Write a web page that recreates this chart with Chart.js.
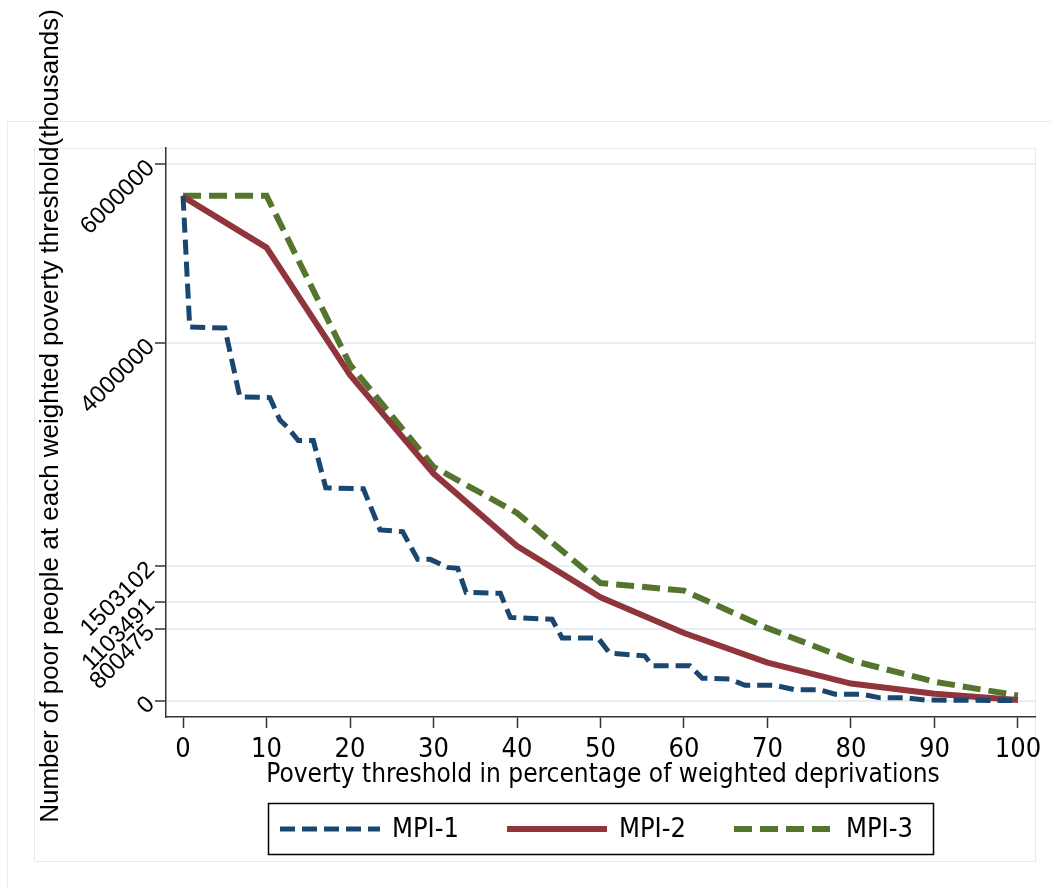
<!DOCTYPE html>
<html>
<head>
<meta charset="utf-8">
<title>Poor people by poverty threshold</title>
<script src="https://cdn.jsdelivr.net/npm/chart.js@4.4.1/dist/chart.umd.min.js"></script>
<style>
  html, body { margin: 0; padding: 0; background: #fff; }
  canvas { display: block; }
</style>
</head>
<body>
<canvas id="myChart" width="1051" height="888"></canvas>
<script>
// poverty thresholds (%) where MPI-2 and MPI-3 are evaluated
const limiares = [0, 10, 20, 30, 40, 50, 60, 70, 80, 90, 100]
const mpi2 = [5640000, 5070000, 3645000, 2540000, 1730000, 1155000, 755000, 425000, 190000, 75000, 5000]
const mpi3 = [5650000, 5650000, 3760000, 2615000, 2100000, 1315000, 1230000, 810000, 450000, 210000, 56000]

// MPI-1 has many more steps
const mpi1X = [0, 0.8, 5, 6.8, 10.4, 11.6, 12.6, 13.8, 15.6, 17.1, 21.6, 23.6, 26.3, 28.1, 29.6, 31.7, 32.9, 33.9, 38, 39.2, 44.2, 45.4, 49.7, 51.1, 55.3, 56.2, 60.7, 62.2, 65.5, 67.3, 70.9, 73.3, 76.3, 78.1, 81.3, 83.5, 86.7, 88.9, 100]
const mpi1Y = [5650000, 4180000, 4170000, 3400000, 3390000, 3140000, 3050000, 2910000, 2910000, 2380000, 2370000, 1910000, 1890000, 1580000, 1580000, 1490000, 1480000, 1210000, 1200000, 930000, 910000, 700000, 700000, 530000, 500000, 390000, 390000, 250000, 240000, 170000, 170000, 120000, 120000, 70000, 70000, 30000, 30000, 5000, 0]

const xTicks = [0, 10, 20, 30, 40, 50, 60, 70, 80, 90, 100]
const yTicks = [0, 800475, 1103491, 1503102, 4000000, 6000000]

const legendas = ['MPI-1', 'MPI-2', 'MPI-3']
const tituloX = 'Poverty threshold in percentage of weighted deprivations'
const tituloY = 'Number of poor people at each weighted poverty threshold(thousands)'

const fonteNormal = '"Liberation Sans", Arial, sans-serif'
const fonteEstreita = '"Liberation Sans Narrow", "Arial Narrow", "DejaVu Sans Condensed", sans-serif'

function pares(xs, ys) {
  return xs.map((x, i) => ({ x: x, y: ys[i] }))
}

// frames, axis titles and the boxed legend, drawn the stata way
const molduraPlugin = {
  id: 'moldura',
  beforeDraw(chart) {
    const ctx = chart.ctx
    ctx.save()
    ctx.fillStyle = '#fff'
    ctx.fillRect(0, 0, chart.width, chart.height)
    ctx.strokeStyle = '#e3ecef'
    ctx.lineWidth = 1
    ctx.beginPath()
    ctx.moveTo(7.5, 888)
    ctx.lineTo(7.5, 121.5)
    ctx.lineTo(1051, 121.5)
    ctx.stroke()
    ctx.strokeRect(34.5, 148.5, 1001, 713)
    ctx.restore()
  },
  afterDraw(chart) {
    const ctx = chart.ctx
    ctx.save()
    ctx.fillStyle = '#000'

    // y title
    ctx.save()
    ctx.translate(51, 416)
    ctx.rotate(-Math.PI / 2)
    ctx.font = '26px ' + fonteNormal
    ctx.textAlign = 'center'
    ctx.textBaseline = 'middle'
    ctx.fillText(tituloY, 0, 0)
    ctx.restore()

    // x title
    ctx.font = '26px ' + fonteEstreita
    ctx.textAlign = 'center'
    ctx.textBaseline = 'middle'
    ctx.fillText(tituloX, 603, 775)

    // legend
    ctx.strokeStyle = '#000'
    ctx.lineWidth = 1.5
    ctx.strokeRect(268.5, 803.5, 665, 51)
    const ds = chart.data.datasets
    ds.forEach((d, i) => {
      const x0 = 280 + i * 227
      const y = 829
      ctx.save()
      ctx.strokeStyle = d.borderColor
      ctx.lineWidth = d.borderWidth
      ctx.setLineDash(d.borderDash || [])
      ctx.beginPath()
      ctx.moveTo(x0, y)
      ctx.lineTo(x0 + 100, y)
      ctx.stroke()
      ctx.restore()
      ctx.font = '27px ' + fonteEstreita
      ctx.textAlign = 'left'
      ctx.textBaseline = 'middle'
      ctx.fillStyle = '#000'
      ctx.fillText(d.label, x0 + 112, y + 1)
    })
    ctx.restore()
  }
}

const ctx = document.getElementById('myChart')

new Chart(ctx, {
  type: 'line',
  data: {
    datasets: [
      {
        label: legendas[0],
        data: pares(mpi1X, mpi1Y),
        borderColor: '#1a476f',
        borderWidth: 5,
        borderDash: [15, 7],
        pointRadius: 0,
        tension: 0,
        fill: false
      },
      {
        label: legendas[1],
        data: pares(limiares, mpi2),
        borderColor: '#90353b',
        borderWidth: 6,
        pointRadius: 0,
        tension: 0,
        fill: false
      },
      {
        label: legendas[2],
        data: pares(limiares, mpi3),
        borderColor: '#55752f',
        borderWidth: 6,
        borderDash: [18, 8],
        pointRadius: 0,
        tension: 0,
        fill: false
      }
    ]
  },
  options: {
    responsive: false,
    animation: false,
    layout: {
      padding: { left: 0, top: 148, right: 16, bottom: 0 }
    },
    plugins: {
      legend: { display: false },
      tooltip: { enabled: false }
    },
    scales: {
      x: {
        type: 'linear',
        min: -2.04,
        max: 102.04,
        afterBuildTicks: (scale) => { scale.ticks = xTicks.map(v => ({ value: v })) },
        afterFit: (scale) => { scale.height = 171 },
        border: { display: true, color: '#333', width: 1.5 },
        grid: { drawOnChartArea: false, drawTicks: true, tickLength: 11, tickColor: '#333', tickWidth: 1.5 },
        ticks: {
          autoSkip: false,
          maxRotation: 0,
          padding: 6,
          color: '#000',
          font: { family: fonteEstreita, size: 27 }
        }
      },
      y: {
        type: 'linear',
        min: -184500,
        max: 6184500,
        afterBuildTicks: (scale) => { scale.ticks = yTicks.map(v => ({ value: v })) },
        afterFit: (scale) => { scale.width = 166 },
        border: { display: true, color: '#333', width: 1.5 },
        grid: { color: '#e6eef1', lineWidth: 2, drawTicks: true, tickLength: 11, tickColor: '#333', tickWidth: 1.5 },
        ticks: {
          autoSkip: false,
          minRotation: 45,
          maxRotation: 45,
          padding: 4,
          color: '#000',
          font: { family: fonteNormal, size: 24 },
          callback: (v) => String(v)
        }
      }
    }
  },
  plugins: [molduraPlugin]
})
</script>
</body>
</html>
